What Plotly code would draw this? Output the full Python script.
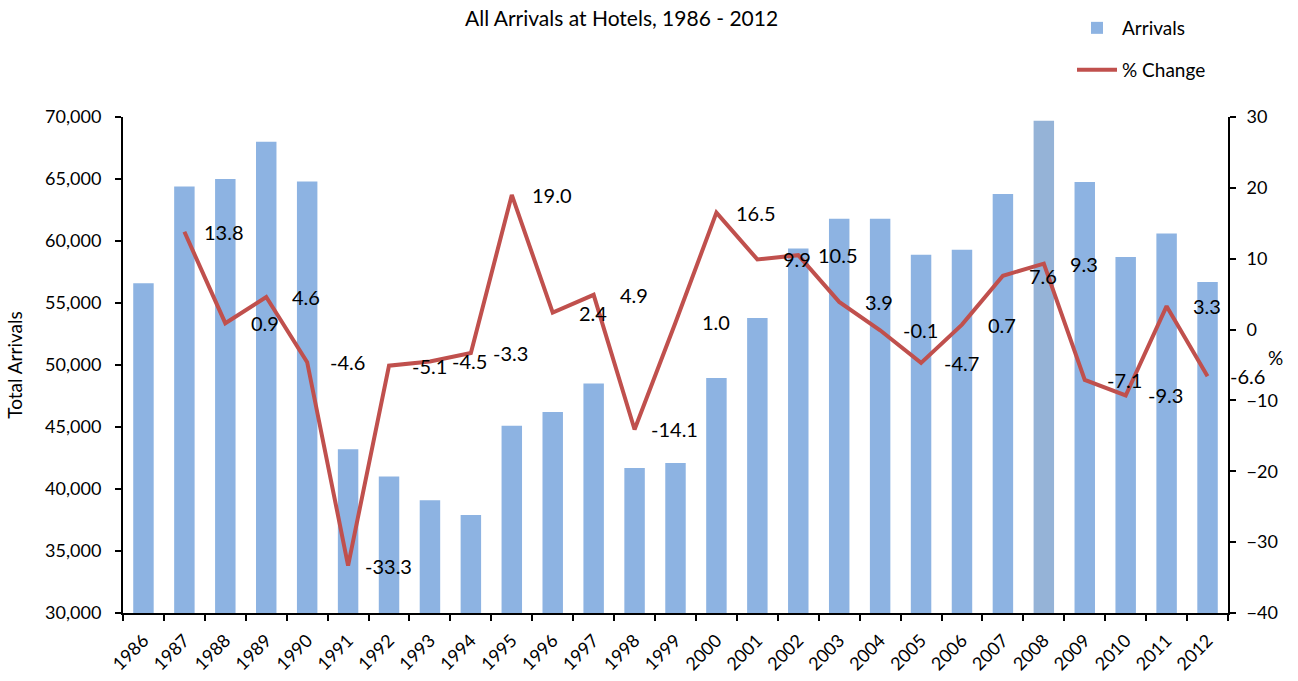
import plotly.graph_objects as go

years = [str(y) for y in range(1986, 2013)]
arrivals = [56600, 64400, 65000, 68000, 64800, 43200, 41000, 39100, 37900, 45100,
            46200, 48500, 41700, 42100, 48950, 53800, 59400, 61800, 61800, 58900,
            59300, 63800, 69700, 64750, 58700, 60600, 56700]
pct_years = years[1:]
pct_change = [13.8, 0.9, 4.6, -4.6, -33.3, -5.1, -4.5, -3.3, 19.0, 2.4, 4.9, -14.1,
              1.0, 16.5, 9.9, 10.5, 3.9, -0.1, -4.7, 0.7, 7.6, 9.3, -7.1, -9.3, 3.3, -6.6]
highlight_year = "2008"

BAR = "#8DB3E2"
BAR_HI = "#95B3D7"
LINE = "#C0504D"
FONT = "Lato"

bar_colors = [BAR_HI if y == highlight_year else BAR for y in years]

fig = go.Figure()
fig.add_trace(go.Bar(x=years, y=arrivals, name="Arrivals", marker=dict(color=bar_colors, line_width=0),
                     yaxis="y", legend="legend"))
fig.add_trace(go.Scatter(x=pct_years, y=pct_change, name="% Change", mode="lines",
                         line=dict(color=LINE, width=4), yaxis="y2", legend="legend2"))

annotations = []
for yr, v in zip(pct_years, pct_change):
    annotations.append(dict(x=years.index(yr), y=v, xref="x", yref="y2", text=f"{v:.1f}",
                            showarrow=False, xanchor="center", yanchor="middle", xshift=40,
                            font=dict(family=FONT, size=20, color="#000")))
annotations.append(dict(x=(621 - 123) / 1105, y=1.0, xref="paper", yref="paper", yshift=100,
                        text="All Arrivals at Hotels, 1986 - 2012", showarrow=False,
                        xanchor="center", yanchor="middle", font=dict(family=FONT, size=21, color="#000")))
annotations.append(dict(x=1.0, y=-4, xref="paper", yref="y2", xshift=47, text="%",
                        showarrow=False, xanchor="center", yanchor="middle",
                        font=dict(family=FONT, size=19, color="#000")))

fig.update_layout(
    width=1298, height=681,
    margin=dict(l=123, r=70, t=117, b=68, autoexpand=False),
    paper_bgcolor="white", plot_bgcolor="white",
    font=dict(family=FONT, size=18, color="#000"),
    bargap=0.5,
    showlegend=True,
    annotations=annotations,
    xaxis=dict(type="category", range=[-0.5, len(years) - 0.5], tickson="boundaries",
               ticks="outside", ticklen=6, tickwidth=2, ticklabelstandoff=8,
               tickcolor="#000", showline=True, linecolor="#000", linewidth=2, tickangle=-45,
               showgrid=False, tickfont=dict(family=FONT, size=18)),
    yaxis=dict(range=[30000, 70000], dtick=5000, tickformat=",d", ticks="outside", ticklen=6,
               tickwidth=2, tickcolor="#000", showline=True, linecolor="#000", linewidth=2,
               ticklabelstandoff=10,
               showgrid=False, zeroline=False, title=dict(text="Total Arrivals", standoff=17,
               font=dict(family=FONT, size=19)), tickfont=dict(family=FONT, size=18)),
    yaxis2=dict(range=[-40, 30], dtick=10, overlaying="y", side="right", ticks="outside",
                ticklen=6, tickwidth=2, tickcolor="#000", showline=True, linecolor="#000",
                ticklabelstandoff=7,
                linewidth=2, showgrid=False, zeroline=False, tickfont=dict(family=FONT, size=18)),
    legend=dict(x=1072 / 1298, y=1 - 28 / 681, xref="container", yref="container",
                xanchor="left", yanchor="middle",
                bgcolor="rgba(0,0,0,0)", font=dict(family=FONT, size=19), itemwidth=40),
    legend2=dict(x=1072 / 1298, y=1 - 70 / 681, xref="container", yref="container",
                 xanchor="left", yanchor="middle",
                 bgcolor="rgba(0,0,0,0)", font=dict(family=FONT, size=19), itemwidth=40),
)

fig.write_html("out.html", config={"displayModeBar": False},
               post_script="document.body.style.margin='0';")
